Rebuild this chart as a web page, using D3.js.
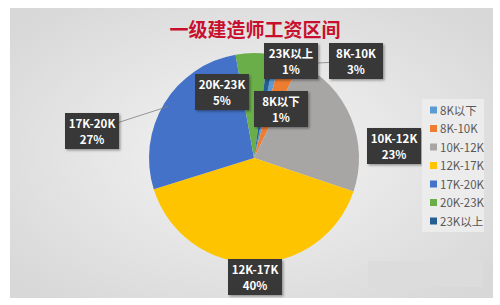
<!DOCTYPE html>
<html>
<head>
<meta charset="utf-8">
<script src="https://cdn.jsdelivr.net/npm/d3@7"></script>
<style>
  body { margin: 0; background: #fff; }
  svg { display: block; }
</style>
</head>
<body>
<svg></svg>
<script>
const width = 500;
const height = 305;

// data
var categories = ["8K以下", "8K-10K", "10K-12K", "12K-17K", "17K-20K", "20K-23K", "23K以上"];
var values = [1, 3, 23, 40, 27, 5, 1];
var colors = ["#5b9bd5", "#ed7d31", "#a8a5a5", "#ffc400", "#4472c8", "#6aae4a", "#255e91"];

// where the label boxes sit (centres)
var labelPos = [[281, 109], [356, 61], [394, 146], [255, 277], [92, 131], [222, 92], [291, 61]];

var svg = d3.select("svg").attr("width", width).attr("height", height);

var defs = svg.append("defs");
var bg = defs.append("radialGradient").attr("id", "bg")
  .attr("cx", "50%").attr("cy", "50%").attr("r", "65%");
bg.append("stop").attr("offset", "0%").attr("stop-color", "#f4f4f4");
bg.append("stop").attr("offset", "100%").attr("stop-color", "#d8d8d8");

var sh = defs.append("filter").attr("id", "shadow")
  .attr("x", "-20%").attr("y", "-20%").attr("width", "150%").attr("height", "150%");
sh.append("feDropShadow").attr("dx", 1.5).attr("dy", 1.5).attr("stdDeviation", 1.2)
  .attr("flood-color", "#000").attr("flood-opacity", 0.35);

// chart area
svg.append("rect").attr("x", 10).attr("y", 8).attr("width", 483).attr("height", 290)
  .attr("fill", "url(#bg)");

// odd lighter patch bottom right
svg.append("rect").attr("x", 368).attr("y", 261).attr("width", 115).attr("height", 26)
  .attr("fill", "#dcdcdc");

// title
svg.append("text").attr("x", 255).attr("y", 37)
  .attr("text-anchor", "middle")
  .attr("font-family", "'Noto Sans CJK SC'").attr("font-weight", "bold")
  .attr("font-size", 19).attr("fill", "#c8102e")
  .text("一级建造师工资区间");

var cx = 254, cy = 158, r = 105;
var offset = 0.2;

var pie = d3.pie().sort(null).startAngle(offset).endAngle(offset + 2 * Math.PI);
var arcs = pie(values);
var arc = d3.arc().innerRadius(0).outerRadius(r);
var edgeArc = d3.arc().innerRadius(r * 0.95).outerRadius(r * 0.95);

var g = svg.append("g").attr("transform", "translate(" + cx + "," + cy + ")");

g.selectAll("path.slice")
  .data(arcs)
  .enter()
  .append("path")
  .attr("class", "slice")
  .attr("d", arc)
  .attr("fill", (d, i) => colors[i]);

// leader lines
g.selectAll("line.lead")
  .data(arcs)
  .enter()
  .append("line")
  .attr("class", "lead")
  .attr("x1", (d, i) => labelPos[i][0] - cx)
  .attr("y1", (d, i) => labelPos[i][1] - cy)
  .attr("x2", d => edgeArc.centroid(d)[0])
  .attr("y2", d => edgeArc.centroid(d)[1])
  .attr("stroke", "#7f7f7f")
  .attr("stroke-width", 0.8)
  .style("display", (d, i) => (i == 1 || i == 4) ? null : "none");

// label boxes
var labels = svg.selectAll("g.lbl")
  .data(arcs)
  .enter()
  .append("g")
  .attr("class", "lbl")
  .attr("transform", (d, i) => "translate(" + labelPos[i][0] + "," + labelPos[i][1] + ")");

labels.append("rect")
  .attr("x", -27).attr("y", -18).attr("width", 54).attr("height", 36)
  .attr("fill", "#383838")
  .attr("filter", "url(#shadow)");

labels.append("text")
  .attr("text-anchor", "middle").attr("y", -3)
  .attr("font-family", "'Noto Sans CJK SC'").attr("font-weight", "bold")
  .attr("font-size", 11.5).attr("fill", "#fff")
  .text((d, i) => categories[i]);

labels.append("text")
  .attr("text-anchor", "middle").attr("y", 13)
  .attr("font-family", "'Noto Sans CJK SC'").attr("font-weight", "bold")
  .attr("font-size", 11.5).attr("fill", "#fff")
  .text((d, i) => values[i] + "%");

// legend
var legend = svg.append("g").attr("transform", "translate(422,99)");
legend.append("rect").attr("width", 62).attr("height", 133).attr("fill", "#ececec");

var items = legend.selectAll("g.item")
  .data(categories)
  .enter()
  .append("g")
  .attr("class", "item")
  .attr("transform", (d, i) => "translate(8," + (11 + i * 18.5) + ")");

items.append("rect").attr("x", 0).attr("y", -3.5).attr("width", 7).attr("height", 7)
  .attr("fill", (d, i) => colors[i]);

items.append("text").attr("x", 10).attr("y", 4.5)
  .attr("font-family", "'Noto Sans CJK SC'")
  .attr("font-size", 11.5).attr("fill", "#595959")
  .text(d => d);
</script>
</body>
</html>
